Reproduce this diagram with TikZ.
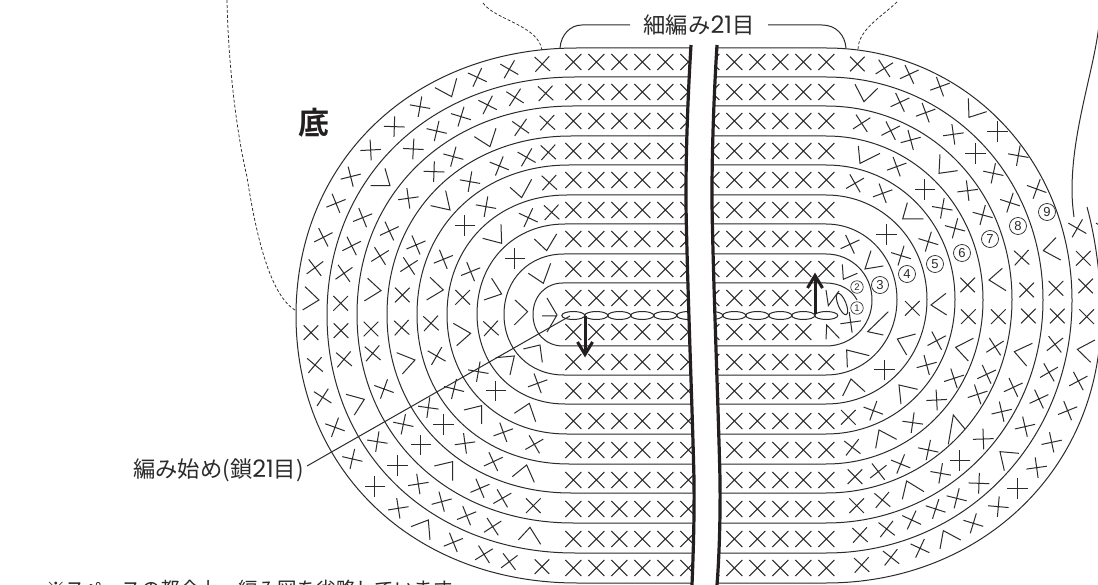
\documentclass[tikz,border=0pt]{standalone}
\usepackage{fontspec}
\setmainfont{Liberation Sans}
\newfontfamily\cjk{Noto Sans CJK JP}[FontFace={m}{n}{Font=* Medium},BoldFont={* Bold}]
\newfontfamily\dig{Poppins}
\newcommand{\wdig}[1]{{\dig\fontsize{24}{24}\selectfont #1}}
\definecolor{ink}{HTML}{2B2B2B}
\definecolor{inkb}{HTML}{231F20}
\tikzset{
  ringline/.style={draw=ink,line width=1pt},
  sym/.style={draw=ink,line width=1pt},
  dashline/.style={draw=ink,line width=0.75pt,dash pattern=on 3pt off 2pt},
  cutline/.style={draw=inkb,line width=3.2pt},
  thickarrow/.style={draw=inkb,line width=3pt},
  numc/.style={circle,draw=ink,line width=0.75pt,inner sep=0pt,minimum size=17pt,font=\fontsize{13}{13}\selectfont,text=ink},
  numd/.style={circle,draw=ink,line width=0.65pt,inner sep=0pt,minimum size=12.5pt,font=\fontsize{9.5}{9.5}\selectfont,text=ink},
  lab/.style={inner sep=0pt,text=ink,font=\cjk\fontsize{22.3}{22.3}\selectfont}
}
\newcommand{\crosslist}[1]{\foreach \a/\b/\t in {#1}{\draw[sym] ({\a+31*cos(\t)},{\b+31*sin(\t)}) -- ({\a-31*cos(\t)},{\b-31*sin(\t)}) ({\a-31*sin(\t)},{\b+31*cos(\t)}) -- ({\a+31*sin(\t)},{\b-31*cos(\t)});}}
\newcommand{\veelist}[1]{\foreach \a/\b/\c/\d/\e/\f in {#1}{\draw[sym,line join=miter] (\a,\b) -- (\c,\d) -- (\e,\f);}}
\begin{document}
\begin{tikzpicture}[x=1pt,y=-1pt]
\useasboundingbox (0,0) rectangle (1098,585);
\clip (0,0) rectangle (1098,585);
\fill[white] (0,0) rectangle (1098,585);
% left halves of the rounds
\foreach \L/\T/\B/\X in {296/48/583/577,327/77/553/575,357/106/523/573,387/136/493/571,417/165/464/569,447/195/434/567,477/224/404/565,504/254/375/564,533/283/346/563}{
  \pgfmathsetmacro{\ka}{(\X-\L)*0.58}
  \pgfmathsetmacro{\kb}{(\B-\T)/2*0.58}
  \pgfmathsetmacro{\cy}{(\B+\T)/2}
  \draw[ringline] (700,\T) -- (\X,\T) .. controls ({\X-\ka},\T) and (\L,{\cy-\kb}) .. (\L,\cy) .. controls (\L,{\cy+\kb}) and ({\X-\ka},\B) .. (\X,\B) -- (700,\B);
}
% right halves of the rounds
\foreach \R/\T/\B in {872/254/346,897/224/375,927/195/404,955/165/434,983/136/464,1012/106/493,1043/77/523,1072/48/553}{
  \pgfmathsetmacro{\ka}{(\R-826)*0.56}
  \pgfmathsetmacro{\kb}{(\B-\T)/2*0.56}
  \pgfmathsetmacro{\cy}{(\B+\T)/2}
  \draw[ringline] (700,\T) -- (826,\T) .. controls ({826+\ka},\T) and (\R,{\cy-\kb}) .. (\R,\cy) .. controls (\R,{\cy+\kb}) and ({826+\ka},\B) .. (826,\B) -- (700,\B);
}
\draw[ringline] (700,283) -- (826,283) .. controls (840,283) and (852,290) .. (857,300);
\draw[ringline] (700,583) -- (826,583) .. controls (980,583) and (1101,470) .. (1101,316) .. controls (1101,280) and (1096,240) .. (1087,207);
% central columns
\foreach \y in {62,92,121,151,180,210,239,269,362,391,421,450,480,509,539,568}{
  \foreach \i in {0,...,11}{
    \pgfmathsetmacro{\xx}{573.3+23*\i}
    \draw[sym] ({\xx-8},{\y-8}) -- ({\xx+8},{\y+8}) ({\xx-8},{\y+8}) -- ({\xx+8},{\y-8});
  }
}
\foreach \y in {298,332}{
  \foreach \i in {0,...,10}{
    \pgfmathsetmacro{\xx}{573.3+23*\i}
    \draw[sym] ({\xx-8},{\y-8}) -- ({\xx+8},{\y+8}) ({\xx-8},{\y+8}) -- ({\xx+8},{\y-8});
  }
}
% chain
\foreach \i in {0,...,11}{
  \draw[ringline] ({573.3+23*\i},315.5) ellipse [x radius=11.5,y radius=4];
}
\draw[ringline,rotate around={-68:(842,304)}] (842,304) ellipse [x radius=11.5,y radius=4];
% symbols upper left
\begin{scope}[shift={(280,40)},x=0.3333pt,y=-0.3333pt]
\crosslist{787/72/42,688/88/30,592/112/25,420/200/10,343/260/2,272/330/-3,212/410/-14,168/490/-22,130/592/-27,105/683/-37,
797/160/42,705/172/33,623/195/27,543/230/17,470/273/13,400/327/3,248/533/-22,215/618/-27,192/700/-35,182/790/45,
802/248/42,722/262/35,520/350/15,462/395/2,385/475/-8,328/573/-25,300/648/-32,367/765/45,
805/337/42,740/352/30,658/378/22,570/425/10,408/615/-23,387/678/-33,
808/428/42,618/500/10,555/557/0,490/658/-22,
815/517/42,745/533/25,572/695/-22,548/772/45,
705/655/0}
\veelist{465/143/515/170/530/115,75/740/117/780/68/810,272/437/330/437/315/385,583/290/630/320/648/265,263/715/303/752/253/783,452/497/510/510/497/452,690/442/725/473/755/418,450/712/490/750/440/780,608/595/665/610/663/553,763/597/800/632/830/582,612/780/665/762/635/715,745/700/790/730/812/670,705/780/743/815/703/855}
\end{scope}
% symbols lower left
\begin{scope}[shift={(280,310)},x=0.3333pt,y=-0.3333pt]
\crosslist{93/68/45,105/165/40,128/262/33,165/352/20,217/447/13,285/530/0,355/595/-9,520/697/-22,612/733/-32,688/755/-37,786/770/45,
183/62/45,192/148/40,292/395/9,353/466/0,415/522/-9,485/575/-15,560/617/-22,638/650/-33,
273/57/45,278/130/40,312/237/20,370/343/12,423/405/0,555/400/-8,600/535/-23,667/565/-30,760/587/45,
365/53/42,470/138/30,445/293/8,490/343/0,640/455/-25,
453/40/42,522/237/14,595/185/10,648/243/0,670/367/-20,763/403/-30,
633/55/42,773/220/-20}
\veelist{393/650/445/630/450/690,198/253/253/268/223/315,715/690/750/652/782/703,350/128/405/150/367/192,552/300/605/287/605/342,463/468/518/455/518/512,697/500/740/465/763/517,647/143/703/138/690/195,730/117/780/105/787/157,703/310/748/280/767/335,520/40/572/70/530/107}
\end{scope}
% symbols upper right
\begin{scope}[shift={(820,40)},x=0.3333pt,y=-0.3333pt]
\crosslist{112/72/45,193/85/-33,268/103/-25,360/140/-20,532/275/0,595/347/10,650/447/20,772/565/30,790/655/45,797/738/45,
240/187/-25,317/218/-20,400/283/-8,467/340/0,520/400/12,570/488/18,605/653/42,708/745/45,620/750/45,
125/250/-33,212/272/-27,272/300/-15,230/380/-20,315/448/0,443/452/-7,488/525/15,405/565/15,367/505/10,443/735/45,
105/430/-30,188/460/-20,90/613/-25,200/583/0,325/605/17,243/647/17,277/805/45,855/565/30}
\veelist{445/175/447/232/500/215,105/133/132/185/173/145,708/593/670/632/722/660,115/318/120/370/180/340,360/343/357/400/413/392,262/488/248/537/310/537,547/685/507/720/558/752,153/632/135/687/190/678,378/760/333/795/380/825,67/673/70/718/112/700,18/750/25/797/57/753}
\end{scope}
% symbols lower right
\begin{scope}[shift={(820,310)},x=0.3333pt,y=-0.3333pt]
\crosslist{445/20/45,535/20/45,625/18/45,712/18/45,800/20/45,
525/110/-33,705/103/-38,350/92/-28,92/37/-8,85/322/45,
320/165/-15,402/205/-18,500/193/-25,687/187/-30,775/213/-28,580/232/-25,473/253/-18,350/270/-3,657/267/-25,743/302/-22,545/305/-13,615/350/-13,
193/180/0,160/302/20,278/338/8,490/387/-2,695/397/-12,650/473/-8,325/420/12,420/452/0,362/490/10,97/412/38,242/462/22,175/485/-38,105/500/45,592/535/0,477/520/2,535/590/5,410/565/14,347/597/18,460/640/17,275/630/25,110/587/45,187/570/40,120/675/42,200/657/38,300/715/25,213/742/38,125/765/42}
\veelist{460/85/407/112/445/153,637/100/583/125/620/168,825/90/772/118/812/157,205/5/143/65/190/75,18/88/20/45/58/85,287/72/232/87/260/135,148/137/80/120/82/172,135/245/93/207/68/258,293/238/237/225/243/282,435/357/400/315/385/403,597/430/540/425/553/482,230/388/177/360/167/415,422/690/370/662/360/717,312/545/260/513/247/568}
\end{scope}
% first stitch chevron
\draw[sym] (547,298) -- (557,315) -- (547,332) (542,316) -- (557,316);
% the break in the chart
\fill[white] (691,45) .. controls (687,110) and (685,180) .. (686.5,230) .. controls (688,300) and (693,430) .. (694,480) .. controls (694.5,520) and (693,560) .. (692,585) -- (717,585) .. controls (719,560) and (720.5,520) .. (720,480) .. controls (719,430) and (714,300) .. (712.5,230) .. controls (711,180) and (713,110) .. (717,45) -- cycle;
\draw[cutline] (691,45) .. controls (687,110) and (685,180) .. (686.5,230) .. controls (688,300) and (693,430) .. (694,480) .. controls (694.5,520) and (693,560) .. (692,585);
\draw[cutline] (717,45) .. controls (713,110) and (711,180) .. (712.5,230) .. controls (714,300) and (719,430) .. (720,480) .. controls (720.5,520) and (719,560) .. (717,585);
% arrows
\draw[thickarrow] (815,314) -- (815,277);
\draw[thickarrow,line join=miter] (807.5,288) -- (815,275.5) -- (822.5,288);
\draw[thickarrow] (585,316) -- (585,353);
\draw[thickarrow,line join=miter] (577.5,342) -- (585,354.5) -- (592.5,342);
% numbers
\node[numd] (n1) at (857,308) {1};
\node[numd] (n2) at (857,287) {2};
\node[numc] (n3) at (880,285) {3};
\node[numc] (n4) at (907,274) {4};
\node[numc] (n5) at (935,264) {5};
\node[numc] (n6) at (962,253) {6};
\node[numc] (n7) at (990,239) {7};
\node[numc] (n8) at (1018,226) {8};
\node[numc] (n9) at (1047,212) {9};
% labels
\node[lab] (top) at (699,25) {細編み\wdig{21}目};
\coordinate (tl) at (560,48);
\coordinate (tr) at (846,48);
\draw[ringline] (tl) .. controls (561,35) and (570,25) .. (582,25) -- (630,25);
\draw[ringline] (tr) .. controls (845,35) and (836,25) .. (822,25) -- (768,25);
\node[lab,font=\cjk\bfseries\fontsize{31}{31}\selectfont,text=inkb] (bottomlab) at (314,122.5) {底};
\node[lab] (startlab) at (218.5,470) {編み始め(鎖\wdig{21}目)};
\coordinate (chainstart) at (570,316);
\draw[ringline] (307,466) -- (chainstart);
\node[lab,anchor=west,font=\cjk\fontsize{19.5}{19.5}\selectfont] (note) at (46,589.5) {※スペースの都合上、編み図を省略しています。};
% seam guide lines
\draw[dashline] (227,0) .. controls (228,60) and (236,130) .. (247,177) .. controls (256,235) and (270,295) .. (295,310);
\draw[dashline] (483,3) .. controls (495,20) and (538,25) .. (542,50);
\draw[dashline] (897,2) .. controls (880,18) and (858,30) .. (858,50);
\draw[ringline] (1099,25) .. controls (1094,70) and (1072,130) .. (1072,190) .. controls (1072,200) and (1073,210) .. (1074,217);
\end{tikzpicture}
\end{document}
